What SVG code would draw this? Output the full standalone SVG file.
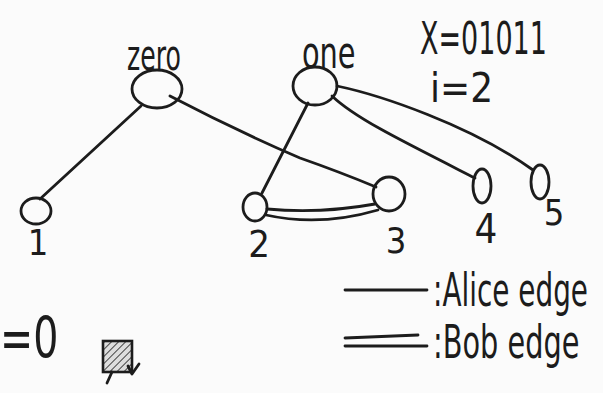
<svg xmlns="http://www.w3.org/2000/svg" width="603" height="393" viewBox="0 0 603 393">
<style>
.ink{fill:none;stroke:#1c1c1c;stroke-width:2.8;stroke-linecap:round;stroke-linejoin:round}
.node{fill:none;stroke:#1c1c1c;stroke-width:2.8}
.t{font-family:"DejaVu Sans Condensed","Liberation Sans Narrow","DejaVu Sans",sans-serif;fill:#1c1c1c}
</style>
<defs>
<pattern id="hatch" width="5" height="5" patternUnits="userSpaceOnUse" patternTransform="rotate(45)">
<rect width="5" height="5" fill="#ddd"/>
<line x1="0" y1="0" x2="0" y2="5" stroke="#333" stroke-width="1.8"/>
</pattern>
</defs>
<rect width="603" height="393" fill="#fbfbfb"/>
<g id="connectors">
<path class="ink" d="M141,106 L40,199"/>
<path class="ink" d="M170,96 Q235,130 300,158 Q340,172 376,187"/>
<path class="ink" d="M308,103 L262,193"/>
<path class="ink" d="M332,96 C355,118 400,140 475,178"/>
<path class="ink" d="M337,86 C380,95 470,125 533,170"/>
<path class="ink" d="M267,209 Q320,214 375,204"/>
<path class="ink" d="M266,215 Q320,227 378,210"/>
</g>
<g id="node-zero">
<ellipse class="node" cx="157" cy="89" rx="25" ry="19"/>
<text class="t" font-size="28" transform="translate(127,70) scale(1,1.5)">zero</text>
</g>
<g id="node-one">
<ellipse class="node" cx="315" cy="86" rx="22" ry="19"/>
<text class="t" font-size="32" transform="translate(302,68) scale(1,1.4)">one</text>
</g>
<g id="node-1">
<ellipse class="node" cx="36" cy="211" rx="15" ry="13"/>
<text class="t" x="38" y="255" font-size="36" text-anchor="middle">1</text>
</g>
<g id="node-2">
<ellipse class="node" cx="255" cy="207" rx="12" ry="14"/>
<text class="t" x="259" y="257" font-size="38" text-anchor="middle">2</text>
</g>
<g id="node-3">
<ellipse class="node" cx="389" cy="194" rx="16" ry="17"/>
<text class="t" x="396" y="253" font-size="36" text-anchor="middle">3</text>
</g>
<g id="node-4">
<ellipse class="node" cx="482" cy="186" rx="9" ry="17"/>
<text class="t" x="486" y="243" font-size="40" text-anchor="middle">4</text>
</g>
<g id="node-5">
<ellipse class="node" cx="540" cy="182" rx="9" ry="17"/>
<text class="t" x="554" y="225" font-size="36" text-anchor="middle">5</text>
</g>
<g id="annotations">
<text class="t" font-size="30" transform="translate(420,54) scale(1,1.5)">X=01011</text>
<text class="t" x="430" y="102" font-size="40">i=2</text>
<text class="t" font-size="44" transform="translate(0,358) scale(1,1.3)">=0</text>
<rect x="103" y="341" width="29" height="31" fill="url(#hatch)" stroke="#1c1c1c" stroke-width="2.6"/>
<path class="ink" d="M107,383 L112,372 M128,366 L132,374 L139,364"/>
</g>
<g id="legend">
<path class="ink" d="M345,290 L427,290" stroke-width="3"/>
<text class="t" font-size="31" transform="translate(433,306) scale(1,1.5)">:Alice edge</text>
<path class="ink" d="M345,338 L418,335"/>
<path class="ink" d="M345,346 L427,346"/>
<text class="t" font-size="32" transform="translate(433,358) scale(1,1.45)">:Bob edge</text>
</g>
</svg>
